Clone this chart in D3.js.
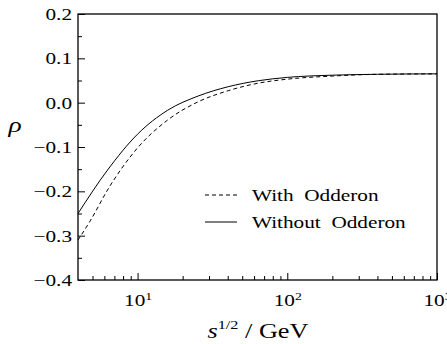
<!DOCTYPE html>
<html>
<head>
<meta charset="utf-8">
<script src="https://cdn.jsdelivr.net/npm/d3@7"></script>
<style>
  body { margin: 0; background: #fff; }
</style>
</head>
<body>
<svg id="mainsvg" width="447" height="344"></svg>
<script>
// data
const energyWith = [4, 4.86, 6.3, 10, 15.9, 25.4, 40.3, 64, 100, 200, 400, 1000];
const rhoWith = [-0.310, -0.265, -0.197, -0.102, -0.039, 0.002, 0.027, 0.044, 0.053, 0.060, 0.064, 0.065];
const energyWithout = [4, 6.3, 10, 15.9, 25.4, 40.3, 64, 100, 200, 400, 1000];
const rhoWithout = [-0.250, -0.152, -0.071, -0.017, 0.015, 0.036, 0.0495, 0.057, 0.062, 0.064, 0.065];
const xMajor = [10, 100, 1000];
const xMinor = [5, 6, 7, 8, 9, 20, 30, 40, 50, 60, 70, 80, 90, 200, 300, 400, 500, 600, 700, 800, 900];
const yMajor = [-0.4, -0.3, -0.2, -0.1, 0.0, 0.1, 0.2];
const yMinor = [-0.35, -0.25, -0.15, -0.05, 0.05, 0.15];
const legendNames = ['With  Odderon', 'Without  Odderon'];

const serif = 'Liberation Serif';
const stretch = 1.25; // the figure's type is a bit wider than normal Times

const svg = d3.select('#mainsvg');
const margin = { top: 14, right: 10, bottom: 64, left: 78 };
const innerWidth = 437 - margin.left;
const innerHeight = 280 - margin.top;
const g = svg.append('g')
    .attr('transform', `translate(${margin.left}, ${margin.top})`);

const xScale = d3.scaleLog().domain([4, 1000]).range([0, innerWidth]);
const yScale = d3.scaleLinear().domain([-0.4, 0.2]).range([innerHeight, 0]);

// x axis, ticks point inward
const xAxis = d3.axisBottom(xScale)
    .tickValues(xMajor)
    .tickFormat('')
    .tickSize(-7)
    .tickPadding(14);
const xAxisGroup = g.append('g').call(xAxis)
    .attr('transform', `translate(0, ${innerHeight})`);
xAxisGroup.selectAll('.tick text')
    .attr('font-size', 17)
    .attr('transform', `scale(${stretch},1)`)
    .each(function(d) {
        const t = d3.select(this);
        t.append('tspan').text('10');
        t.append('tspan').attr('font-size', 11).attr('dy', '-0.55em')
            .text(Math.round(Math.log10(d)));
    });
g.append('g').call(d3.axisBottom(xScale).tickValues(xMinor).tickFormat('').tickSize(-4))
    .attr('transform', `translate(0, ${innerHeight})`);

// y axis
const yAxis = d3.axisLeft(yScale)
    .tickValues(yMajor)
    .tickFormat(d3.format('.1f'))
    .tickSize(-7)
    .tickPadding(6);
const yAxisGroup = g.append('g').call(yAxis);
yAxisGroup.selectAll('.tick text')
    .attr('font-size', 17)
    .attr('x', -6 / stretch)
    .attr('transform', `scale(${stretch},1)`);
g.append('g').call(d3.axisLeft(yScale).tickValues(yMinor).tickFormat('').tickSize(-4));

g.selectAll('g').attr('font-family', null).attr('font-size', null);
g.selectAll('.domain').remove();
g.selectAll('.tick line').attr('stroke', '#000').attr('stroke-width', 1);
g.selectAll('.tick text').attr('fill', '#000').attr('font-family', serif);

// frame
g.append('rect')
    .attr('width', innerWidth)
    .attr('height', innerHeight)
    .attr('fill', 'none')
    .attr('stroke', '#000')
    .attr('stroke-width', 1.3);

// curves
const line = d3.line()
    .x(d => xScale(d[0]))
    .y(d => yScale(d[1]))
    .curve(d3.curveMonotoneX);

g.append('path')
    .datum(d3.zip(energyWith, rhoWith))
    .attr('fill', 'none')
    .attr('stroke', '#000')
    .attr('stroke-width', 1)
    .attr('stroke-dasharray', '4,3')
    .attr('d', line);

g.append('path')
    .datum(d3.zip(energyWithout, rhoWithout))
    .attr('fill', 'none')
    .attr('stroke', '#000')
    .attr('stroke-width', 1)
    .attr('d', line);

// legend
const legend = svg.append('g').attr('transform', 'translate(205, 195)');
legendNames.forEach((name, i) => {
    const row = legend.append('g').attr('transform', `translate(0, ${i * 27})`);
    row.append('line')
        .attr('x1', 0).attr('x2', 32)
        .attr('stroke', '#000')
        .attr('stroke-width', 1)
        .attr('stroke-dasharray', i === 0 ? '4,3' : null);
    row.append('text')
        .attr('transform', `translate(47, 0) scale(${stretch},1)`)
        .attr('dy', '0.35em')
        .attr('font-family', serif)
        .attr('font-size', 17)
        .style('white-space', 'pre')
        .text(name);
});

// axis labels
svg.append('text')
    .attr('transform', `translate(15, 132) scale(${stretch},1)`)
    .attr('text-anchor', 'middle')
    .attr('font-family', serif)
    .attr('font-size', 22)
    .attr('font-style', 'italic')
    .text('ρ');

const xLabel = svg.append('text')
    .attr('transform', `translate(258, 338) scale(${stretch},1)`)
    .attr('text-anchor', 'middle')
    .attr('font-family', serif)
    .attr('font-size', 21);
xLabel.append('tspan').attr('font-style', 'italic').text('s');
xLabel.append('tspan').attr('font-size', 13).attr('dy', -9).text('1/2');
xLabel.append('tspan').attr('dy', 9).text(' / GeV');
</script>
</body>
</html>
